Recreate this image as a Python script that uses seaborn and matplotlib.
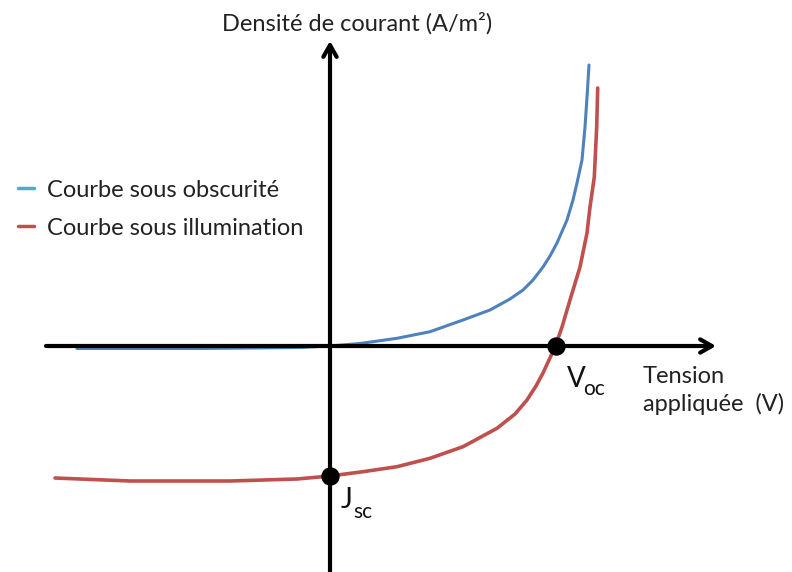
import numpy as np
import pandas as pd
import matplotlib
matplotlib.use("Agg")
import matplotlib.pyplot as plt
from matplotlib.lines import Line2D
import seaborn as sns

# Schematic J-V curves of a solar cell (units arbitrary)
v_dark = [-2.53, -1.30, -0.30, 0.0, 0.30, 0.67, 1.00, 1.33, 1.60, 1.80, 1.93, 2.03,
          2.13, 2.20, 2.27, 2.37, 2.43, 2.47, 2.52, 2.55, 2.573, 2.59]
j_dark = [-0.025, -0.025, -0.015, 0.0, 0.025, 0.077, 0.143, 0.26, 0.36, 0.47, 0.56,
          0.66, 0.79, 0.90, 1.03, 1.26, 1.46, 1.63, 1.86, 2.19, 2.53, 2.81]

v_light = [-2.75, -2.0, -1.0, -0.33, 0.0, 0.33, 0.67, 1.00, 1.33, 1.67, 1.85, 1.97,
           2.06, 2.13, 2.19, 2.255, 2.32, 2.40, 2.50, 2.57, 2.60, 2.643, 2.667, 2.677]
j_light = [-1.32, -1.35, -1.35, -1.33, -1.30, -1.257, -1.207, -1.123, -1.007, -0.823,
           -0.68, -0.54, -0.40, -0.27, -0.14, 0.0, 0.19, 0.46, 0.79, 1.13, 1.39, 1.69,
           2.19, 2.58]

# short-circuit current and open-circuit voltage
v_points = [0.0, 2.255]
j_points = [-1.30, 0.0]

sns.set_theme(style="white")
plt.rcParams['font.family'] = ['Lato', 'DejaVu Sans']

fig = plt.figure(figsize=(7.92, 5.72), dpi=100)
ax = fig.add_axes([0, 0, 1, 1])
ax.set_xlim(-3.30, 4.62)
ax.set_ylim(-2.26, 3.46)
ax.axis("off")

blue = "#4f81bd"
red = "#c0504d"

sns.lineplot(x=v_dark, y=j_dark, sort=False, estimator=None, ax=ax,
             color=blue, linewidth=2.2, zorder=2)
sns.lineplot(x=v_light, y=j_light, sort=False, estimator=None, ax=ax,
             color=red, linewidth=2.6, zorder=2)

# axes drawn as arrows
arrow = dict(arrowstyle="->,head_length=0.7,head_width=0.4", color="black",
             linewidth=3, shrinkA=0, shrinkB=0)
ax.annotate("", xy=(3.86, 0), xytext=(-2.84, 0), arrowprops=arrow, zorder=3)
ax.annotate("", xy=(0, 3.05), xytext=(0, -2.26), arrowprops=arrow, zorder=3)

sns.scatterplot(x=v_points, y=j_points, ax=ax, color="black", s=150,
                edgecolor="black", zorder=4, legend=False)

fs = 17
txt = "#222222"
ax.text(0.27, 3.15, "Densité de courant (A/m²)", fontsize=fs, ha="center",
        va="baseline", color=txt)
ax.text(3.13, -0.37, "Tension", fontsize=fs, va="baseline", color=txt)
ax.text(3.13, -0.65, "appliquée  (V)", fontsize=fs, va="baseline", color=txt)

ax.text(2.37, -0.41, "V", fontsize=20, va="baseline", color="#111111")
ax.text(2.53, -0.49, "oc", fontsize=15, va="baseline", color="#111111")
ax.text(0.11, -1.62, "J", fontsize=20, va="baseline", color="#111111")
ax.text(0.23, -1.72, "sc", fontsize=15, va="baseline", color="#111111")

handles = [Line2D([], [], color="#4bacc6", linewidth=2.5),
           Line2D([], [], color=red, linewidth=2.5)]
ax.legend(handles, ["Courbe sous obscurité", "Courbe sous illumination"],
          loc="upper left", bbox_to_anchor=(0.0, 0.717), frameon=False,
          fontsize=fs, handlelength=0.7, handletextpad=0.55, labelspacing=0.72,
          borderaxespad=0.35, labelcolor=txt)

fig.savefig("out.png", dpi=100)
